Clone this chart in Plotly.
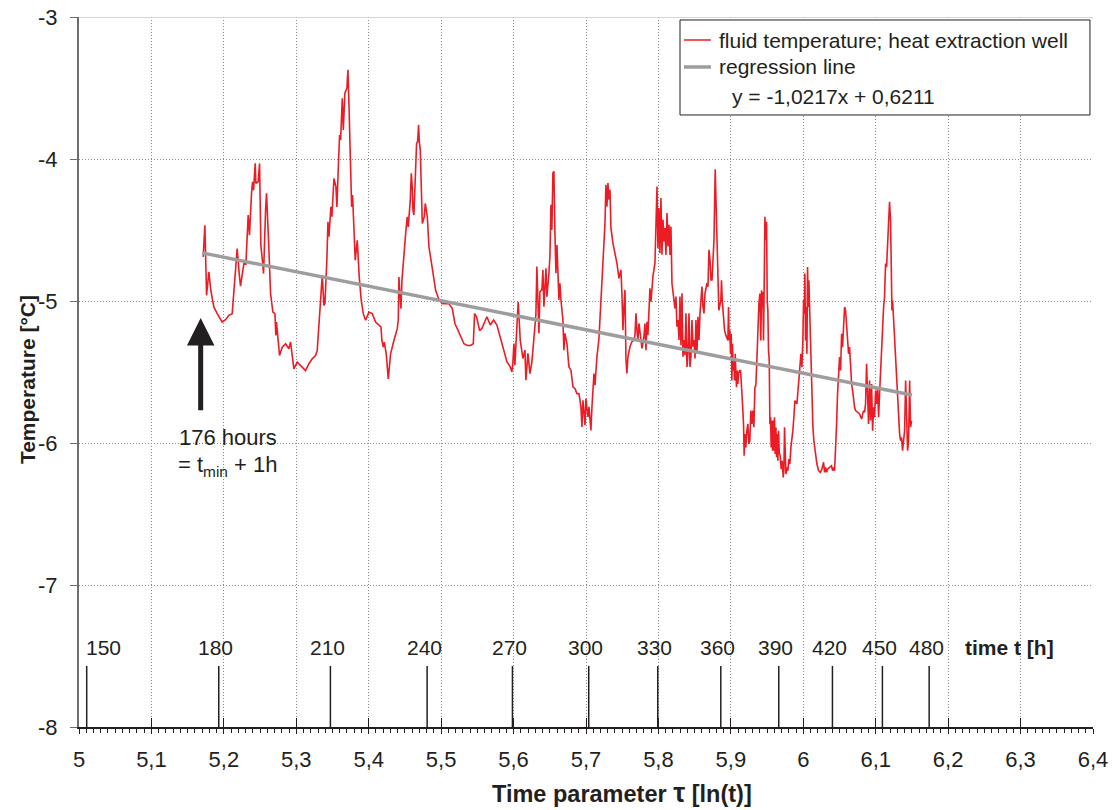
import numpy as np
import plotly.graph_objects as go

# ---------------- data ----------------
# segment 1 (tau = ln(t), temperature in degC)
tau_a = [5.1715, 5.1738, 5.1761, 5.1793, 5.1820, 5.1862, 5.1908, 5.1977, 5.2023, 5.2069, 5.2115, 5.2138, 5.2184, 5.2212, 5.2230, 5.2276, 5.2304, 5.2336, 5.2354, 5.2382, 5.2396, 5.2410, 5.2433, 5.2442, 5.2474, 5.2493, 5.2511, 5.2534, 5.2548, 5.2576, 5.2589, 5.2617, 5.2645, 5.2677, 5.2705, 5.2718, 5.2727, 5.2769, 5.2806, 5.2852, 5.2898, 5.2921, 5.2949, 5.2967, 5.3013, 5.3059, 5.3128, 5.3174, 5.3220, 5.3266, 5.3289, 5.3317, 5.3344, 5.3358, 5.3381, 5.3395, 5.3423, 5.3437, 5.3451, 5.3478, 5.3492, 5.3520, 5.3547, 5.3561, 5.3584, 5.3598, 5.3612, 5.3635, 5.3649, 5.3671, 5.3699, 5.3713, 5.3727, 5.3741, 5.3755, 5.3764, 5.3777, 5.3800, 5.3814, 5.3828, 5.3842, 5.3869, 5.3897, 5.3925, 5.3957, 5.4003, 5.4049, 5.4095, 5.4141, 5.4169, 5.4182, 5.4201, 5.4215, 5.4242, 5.4270, 5.4302, 5.4348, 5.4394, 5.4408, 5.4417, 5.4431, 5.4445, 5.4459, 5.4486, 5.4514, 5.4532, 5.4546, 5.4574, 5.4588, 5.4601, 5.4611, 5.4624, 5.4647, 5.4661, 5.4675, 5.4689, 5.4698, 5.4712, 5.4726, 5.4740, 5.4767, 5.4781, 5.4809, 5.4832, 5.4878, 5.4924, 5.4970, 5.5016, 5.5062, 5.5108, 5.5154, 5.5191, 5.5223, 5.5269, 5.5315, 5.5361, 5.5407, 5.5444, 5.5462, 5.5490, 5.5531]
temp_a = [-4.689, -4.466, -4.960, -4.795, -4.925, -5.042, -5.089, -5.148, -5.132, -5.101, -5.089, -4.948, -4.631, -4.807, -4.896, -4.736, -4.741, -4.395, -4.536, -4.242, -4.160, -4.219, -4.031, -4.172, -4.160, -4.031, -4.607, -4.725, -4.807, -4.360, -4.242, -4.572, -4.948, -5.078, -5.089, -5.242, -5.148, -5.384, -5.325, -5.301, -5.336, -5.289, -5.384, -5.478, -5.431, -5.454, -5.490, -5.442, -5.407, -5.384, -5.348, -5.136, -4.925, -4.819, -5.031, -5.019, -4.701, -4.442, -4.548, -4.337, -4.407, -4.137, -4.195, -4.337, -4.007, -3.831, -3.866, -3.572, -3.795, -3.537, -3.501, -3.372, -3.607, -3.889, -4.148, -4.337, -4.254, -4.619, -4.713, -4.642, -4.572, -4.831, -4.995, -5.089, -5.136, -5.078, -5.089, -5.148, -5.172, -5.183, -5.278, -5.325, -5.289, -5.372, -5.548, -5.372, -5.278, -5.195, -5.136, -4.831, -4.948, -5.054, -4.854, -4.654, -4.501, -4.407, -4.478, -4.290, -4.101, -4.195, -4.360, -4.395, -4.089, -3.889, -3.878, -3.760, -3.878, -3.936, -4.195, -4.454, -4.407, -4.313, -4.407, -4.619, -4.772, -4.925, -4.991, -5.019, -5.019, -5.019, -5.054, -5.160, -5.195, -5.254, -5.301, -5.313, -5.313, -5.301, -5.089, -5.113, -5.208]

# segment 2
tau_b = [5.5563, 5.5632, 5.5678, 5.5724, 5.5770, 5.5816, 5.5862, 5.5908, 5.5954, 5.5977, 5.5991, 5.6005, 5.6018, 5.6037, 5.6064, 5.6092, 5.6129, 5.6157, 5.6170, 5.6198, 5.6226, 5.6253, 5.6281, 5.6308, 5.6322, 5.6336, 5.6350, 5.6364, 5.6391, 5.6405, 5.6419, 5.6447, 5.6460, 5.6488, 5.6502, 5.6516, 5.6529, 5.6543, 5.6557, 5.6571, 5.6585, 5.6599, 5.6612, 5.6626, 5.6640, 5.6654, 5.6681, 5.6695, 5.6709, 5.6737, 5.6764, 5.6792, 5.6820, 5.6847, 5.6875, 5.6903, 5.6930, 5.6944, 5.6958, 5.6986, 5.6999, 5.7027, 5.7041, 5.7068, 5.7082, 5.7096, 5.7110, 5.7124, 5.7151, 5.7179, 5.7206, 5.7234, 5.7262, 5.7275, 5.7289, 5.7303, 5.7317, 5.7331, 5.7344, 5.7372, 5.7400, 5.7427, 5.7455, 5.7482, 5.7496, 5.7510, 5.7524, 5.7538, 5.7552, 5.7565, 5.7579, 5.7607, 5.7634, 5.7662, 5.7676, 5.7690, 5.7703, 5.7717, 5.7731, 5.7759, 5.7773, 5.7800, 5.7814, 5.7828, 5.7842, 5.7855, 5.7869, 5.7883, 5.7897, 5.7924, 5.7952, 5.7966, 5.7980, 5.7993, 5.8007, 5.8021, 5.8035, 5.8049, 5.8063, 5.8076, 5.8090, 5.8104, 5.8118, 5.8132, 5.8146, 5.8160, 5.8173, 5.8187, 5.8201, 5.8228, 5.8242, 5.8256, 5.8270, 5.8284, 5.8297, 5.8311, 5.8325, 5.8339, 5.8353, 5.8366, 5.8380, 5.8394, 5.8408, 5.8422, 5.8436, 5.8449, 5.8463, 5.8477, 5.8491, 5.8505, 5.8518, 5.8532, 5.8546, 5.8560, 5.8574, 5.8588, 5.8601, 5.8615, 5.8629, 5.8643, 5.8670, 5.8684, 5.8698, 5.8712, 5.8726, 5.8740, 5.8753, 5.8767]
temp_b = [-5.193, -5.111, -5.169, -5.134, -5.169, -5.252, -5.346, -5.428, -5.464, -5.499, -5.428, -5.299, -5.452, -5.264, -5.005, -5.275, -5.405, -5.346, -5.558, -5.369, -5.511, -5.428, -5.252, -5.099, -4.758, -4.981, -5.228, -4.934, -4.922, -4.781, -5.040, -4.769, -4.969, -4.805, -4.687, -4.322, -4.499, -4.099, -4.087, -4.522, -4.805, -4.605, -4.805, -4.993, -4.875, -4.993, -5.134, -5.346, -5.228, -5.299, -5.464, -5.487, -5.605, -5.616, -5.652, -5.652, -5.746, -5.887, -5.699, -5.875, -5.687, -5.817, -5.746, -5.911, -5.746, -5.605, -5.511, -5.593, -5.393, -5.264, -4.969, -4.722, -4.452, -4.181, -4.334, -4.169, -4.287, -4.216, -4.487, -4.593, -4.664, -4.734, -4.840, -4.781, -4.946, -5.205, -5.040, -4.922, -5.416, -5.511, -5.393, -5.322, -5.287, -5.275, -5.240, -5.087, -5.205, -5.275, -5.158, -5.275, -5.334, -5.252, -5.158, -5.346, -5.146, -5.240, -5.087, -4.911, -5.005, -4.828, -4.734, -4.393, -4.193, -4.628, -4.346, -4.664, -4.275, -4.675, -4.428, -4.581, -4.487, -4.675, -4.381, -4.616, -4.464, -4.675, -4.475, -4.875, -4.946, -5.052, -4.969, -5.181, -5.134, -5.275, -4.969, -5.311, -4.946, -5.393, -5.275, -5.381, -5.087, -5.464, -5.369, -5.087, -5.464, -5.393, -5.134, -5.322, -5.275, -5.405, -5.134, -5.369, -5.111, -5.275, -5.087, -4.993, -4.899, -5.040, -5.087, -4.946, -4.875, -4.899, -4.640, -4.711, -4.852, -4.852, -4.711, -4.569]

# segment 3
tau_c = [5.8784, 5.8797, 5.8807, 5.8820, 5.8834, 5.8862, 5.8871, 5.8881, 5.8899, 5.8913, 5.8931, 5.8959, 5.8968, 5.8977, 5.8986, 5.8995, 5.9005, 5.9014, 5.9023, 5.9032, 5.9041, 5.9051, 5.9060, 5.9069, 5.9078, 5.9087, 5.9097, 5.9106, 5.9120, 5.9134, 5.9147, 5.9161, 5.9175, 5.9184, 5.9193, 5.9207, 5.9221, 5.9235, 5.9249, 5.9262, 5.9276, 5.9290, 5.9304, 5.9318, 5.9332, 5.9345, 5.9359, 5.9373, 5.9387, 5.9401, 5.9414, 5.9424, 5.9433, 5.9442, 5.9451, 5.9460, 5.9470, 5.9483, 5.9493, 5.9502, 5.9511, 5.9520, 5.9530, 5.9539, 5.9548, 5.9557, 5.9566, 5.9576, 5.9585, 5.9594, 5.9603, 5.9612, 5.9622, 5.9631, 5.9640, 5.9649, 5.9659, 5.9668, 5.9681, 5.9695, 5.9709, 5.9723, 5.9732, 5.9741, 5.9751, 5.9760, 5.9774, 5.9787, 5.9801, 5.9815, 5.9829, 5.9843, 5.9856, 5.9870, 5.9884, 5.9912, 5.9925, 5.9939, 5.9953, 5.9967, 5.9981, 5.9994, 6.0004, 6.0013, 6.0022, 6.0031, 6.0041, 6.0050, 6.0059, 6.0068, 6.0077, 6.0087, 6.0096, 6.0105, 6.0114, 6.0123, 6.0133, 6.0146, 6.0165, 6.0188, 6.0211, 6.0234, 6.0257, 6.0280, 6.0294, 6.0308, 6.0322, 6.0335, 6.0363, 6.0390, 6.0404, 6.0418, 6.0432, 6.0446, 6.0460, 6.0473, 6.0487, 6.0501, 6.0515, 6.0529, 6.0542, 6.0556, 6.0570, 6.0584, 6.0598, 6.0611, 6.0625, 6.0639, 6.0653, 6.0667, 6.0681, 6.0694, 6.0708, 6.0722, 6.0750, 6.0777, 6.0805, 6.0832, 6.0846, 6.0860, 6.0874, 6.0888, 6.0901, 6.0915, 6.0929, 6.0943, 6.0957, 6.0971, 6.0984, 6.0998, 6.1012, 6.1026, 6.1040, 6.1053, 6.1067, 6.1081, 6.1095, 6.1109, 6.1122, 6.1136, 6.1150, 6.1164, 6.1178, 6.1191, 6.1205, 6.1214, 6.1224, 6.1233, 6.1247, 6.1261, 6.1274, 6.1288, 6.1302, 6.1316, 6.1330, 6.1343, 6.1357, 6.1371, 6.1385, 6.1399, 6.1413, 6.1426, 6.1440, 6.1454, 6.1468, 6.1482, 6.1495]
temp_c = [-4.073, -4.336, -4.572, -4.878, -5.066, -4.995, -4.854, -4.995, -5.089, -5.207, -5.242, -5.278, -5.042, -5.278, -5.207, -5.372, -5.231, -5.560, -5.301, -5.489, -5.419, -5.560, -5.372, -5.513, -5.607, -5.489, -5.584, -5.513, -5.489, -5.489, -5.654, -5.725, -5.866, -6.089, -5.937, -6.031, -5.913, -5.866, -6.007, -5.984, -5.772, -5.866, -5.772, -5.889, -5.607, -5.595, -5.419, -5.183, -5.019, -4.948, -5.278, -4.925, -5.042, -4.936, -5.278, -4.901, -4.407, -4.572, -4.442, -4.995, -5.066, -5.348, -5.419, -5.866, -5.819, -6.031, -5.842, -6.054, -5.842, -6.054, -5.819, -6.078, -5.889, -6.101, -5.937, -6.125, -5.913, -6.066, -6.089, -6.184, -6.125, -6.242, -6.195, -5.889, -6.184, -6.219, -6.172, -6.195, -6.113, -6.148, -6.031, -5.984, -5.913, -5.819, -5.701, -5.725, -5.654, -5.584, -5.466, -5.372, -5.466, -5.278, -4.995, -5.089, -4.807, -5.278, -5.042, -5.372, -4.760, -5.042, -4.854, -5.042, -5.231, -5.325, -5.513, -5.748, -5.889, -5.984, -6.078, -6.148, -6.195, -6.207, -6.184, -6.136, -6.207, -6.172, -6.207, -6.184, -6.172, -6.160, -6.195, -6.172, -6.195, -5.937, -5.866, -5.654, -5.466, -5.395, -5.489, -5.231, -5.325, -5.183, -5.042, -5.066, -5.183, -5.278, -5.372, -5.325, -5.513, -5.584, -5.631, -5.701, -5.748, -5.772, -5.784, -5.795, -5.831, -5.772, -5.784, -5.725, -5.442, -5.701, -5.866, -5.560, -5.842, -5.584, -5.913, -5.748, -5.819, -5.631, -5.725, -5.607, -5.819, -5.654, -5.489, -5.372, -5.137, -5.042, -4.972, -4.736, -4.760, -4.595, -4.431, -4.301, -4.431, -4.878, -5.066, -4.995, -5.137, -5.278, -5.395, -5.607, -5.725, -5.819, -5.937, -5.984, -5.960, -6.054, -5.984, -5.913, -5.560, -5.772, -6.054, -5.984, -5.560, -5.889, -5.842]

# regression line shown in the legend
reg_slope = -1.0217
reg_intercept = 0.6211
reg_tau = [5.170, 6.150]

# secondary time axis (hours) drawn inside the plot
time_hours = [150, 180, 210, 240, 270, 300, 330, 360, 390, 420, 450, 480]

x_ticks = [5.0, 5.1, 5.2, 5.3, 5.4, 5.5, 5.6, 5.7, 5.8, 5.9, 6.0, 6.1, 6.2, 6.3, 6.4]
x_ticktext = ["5", "5,1", "5,2", "5,3", "5,4", "5,5", "5,6", "5,7", "5,8", "5,9", "6", "6,1", "6,2", "6,3", "6,4"]
y_ticks = [-8, -7, -6, -5, -4, -3]
y_ticktext = ["-8", "-7", "-6", "-5", "-4", "-3"]

# ---------------- figure ----------------
def seg(t, v):
    n = min(len(t), len(v))
    return list(t[:n]), list(v[:n])

ta, va = seg(tau_a, temp_a)
tb, vb = seg(tau_b, temp_b)
tc, vc = seg(tau_c, temp_c)
tau = ta + tb + tc
temp = va + vb + vc

FONT = 'Arial, "Liberation Sans", Helvetica, sans-serif'
INK = '#231f20'
RED = '#ed1c24'
GRAY = '#9d9d9d'
GRID = '#8c8c8c'

fig = go.Figure()
fig.add_trace(go.Scatter(x=tau, y=temp, mode='lines',
                         line=dict(color=RED, width=1.6), hoverinfo='skip',
                         name='fluid temperature; heat extraction well'))
reg_y = [reg_slope * x + reg_intercept for x in reg_tau]
fig.add_trace(go.Scatter(x=reg_tau, y=reg_y, mode='lines',
                         line=dict(color=GRAY, width=3.5), hoverinfo='skip',
                         name='regression line'))
# carrier trace for the overlay axis (inward major ticks)
fig.add_trace(go.Scatter(x=[5.0], y=[-8.0], xaxis='x2', mode='markers',
                         marker=dict(opacity=0), hoverinfo='skip', showlegend=False))

shapes = []
annotations = []

# time ticks (hours) at tau = ln(t)
for h in time_hours:
    xv = float(np.log(h))
    shapes.append(dict(type='line', xref='x', yref='y', x0=xv, x1=xv, y0=-8, y1=-7.57,
                       line=dict(color=INK, width=1.5), layer='above'))
    if h == 150:
        annotations.append(dict(x=xv, y=-7.44, xref='x', yref='y', text=str(h), showarrow=False,
                                xanchor='left', yanchor='middle', xshift=-3,
                                font=dict(size=21, color=INK, family=FONT)))
    else:
        annotations.append(dict(x=xv, y=-7.44, xref='x', yref='y', text=str(h), showarrow=False,
                                xanchor='center', yanchor='middle', xshift=-3,
                                font=dict(size=21, color=INK, family=FONT)))
annotations.append(dict(x=6.285, y=-7.44, xref='x', yref='y', text='<b>time t [h]</b>',
                        showarrow=False, xanchor='center', yanchor='middle',
                        font=dict(size=21, color=INK, family=FONT)))

# top frame line
shapes.append(dict(type='line', xref='x', yref='y', x0=5, x1=6.4, y0=-3, y1=-3,
                   line=dict(color='#c8c8c8', width=1.5), layer='above'))

# legend box (drawn by hand)
shapes.append(dict(type='rect', xref='x', yref='y', x0=5.8298, x1=6.3958, y0=-3.690, y1=-3.021,
                   line=dict(color=INK, width=1), fillcolor='white', layer='above'))
shapes.append(dict(type='line', xref='x', yref='y', x0=5.8353, x1=5.8725, y0=-3.162, y1=-3.162,
                   line=dict(color=RED, width=1.5), layer='above'))
shapes.append(dict(type='line', xref='x', yref='y', x0=5.8353, x1=5.8725, y0=-3.352, y1=-3.352,
                   line=dict(color=GRAY, width=3.5), layer='above'))
annotations.append(dict(x=5.8809, y=-3.162, xref='x', yref='y',
                        text='fluid temperature; heat extraction well', showarrow=False,
                        xanchor='left', yanchor='middle', font=dict(size=21, color=INK, family=FONT)))
annotations.append(dict(x=5.8809, y=-3.352, xref='x', yref='y', text='regression line',
                        showarrow=False, xanchor='left', yanchor='middle',
                        font=dict(size=21, color=INK, family=FONT)))
annotations.append(dict(x=5.8988, y=-3.563, xref='x', yref='y', text='y = -1,0217x + 0,6211',
                        showarrow=False, xanchor='left', yanchor='middle',
                        font=dict(size=21, color=INK, family=FONT)))

# arrow + note
annotations.append(dict(x=5.168, y=-5.12, ax=5.168, ay=-5.78, xref='x', yref='y',
                        axref='x', ayref='y', text='', showarrow=True, arrowhead=2,
                        arrowsize=1.1, arrowwidth=5, arrowcolor=INK, standoff=0, startstandoff=0))
annotations.append(dict(x=5.2057, y=-5.958, xref='x', yref='y', text='176 hours',
                        showarrow=False, xanchor='center', yanchor='middle',
                        font=dict(size=22, color=INK, family=FONT)))
annotations.append(dict(x=5.2057, y=-6.162, xref='x', yref='y', text='= t<sub>min</sub> + 1h',
                        showarrow=False, xanchor='center', yanchor='middle',
                        font=dict(size=22, color=INK, family=FONT)))

# axis titles
annotations.append(dict(x=0.5355, y=-0.093, xref='paper', yref='paper',
                        text='<b>Time parameter <span style="font-size:27px">τ</span> [ln(t)]</b>',
                        showarrow=False, xanchor='center', yanchor='middle',
                        font=dict(size=23.5, color=INK, family=FONT)))
annotations.append(dict(x=-0.0513, y=0.49, xref='paper', yref='paper', text='<b>Temperature [°C]</b>',
                        showarrow=False, xanchor='center', yanchor='middle', textangle=-90,
                        font=dict(size=21, color=INK, family=FONT)))

fig.update_layout(
    width=1112, height=810,
    margin=dict(l=79, r=19, t=17, b=83, autoexpand=False),
    plot_bgcolor='white', paper_bgcolor='white',
    separators=', ',
    showlegend=False,
    font=dict(family=FONT, size=22, color=INK),
    xaxis=dict(range=[5, 6.4], tickvals=x_ticks, ticktext=x_ticktext, automargin=False,
               showgrid=True, gridcolor=GRID, griddash='1px,2px', gridwidth=1,
               showline=True, linecolor=INK, linewidth=1.5,
               ticks='outside', ticklen=5, tickcolor=INK, tickwidth=1,
               minor=dict(dtick=0.01, tick0=5, ticks='outside', ticklen=4, tickcolor=INK, showgrid=False),
               zeroline=False, ticklabelstandoff=7, tickfont=dict(size=22, color=INK)),
    xaxis2=dict(range=[5, 6.4], overlaying='x', anchor='y', side='bottom', automargin=False,
                tickvals=x_ticks, ticks='inside', ticklen=9, tickcolor=INK, tickwidth=1,
                showticklabels=False, showgrid=False, showline=False, zeroline=False),
    yaxis=dict(range=[-8, -3], tickvals=y_ticks, ticktext=y_ticktext, automargin=False,
               showgrid=True, gridcolor=GRID, griddash='1px,2px', gridwidth=1,
               showline=True, linecolor='#6d6e71', linewidth=2,
               ticks='outside', ticklen=7, tickcolor='#6d6e71',
               zeroline=False, ticklabelstandoff=8, tickfont=dict(size=22, color=INK)),
    shapes=shapes,
    annotations=annotations,
)

fig.write_html("out.html", config={'displayModeBar': False},
               post_script="document.body.style.margin='0px';document.body.style.overflow='hidden';")
